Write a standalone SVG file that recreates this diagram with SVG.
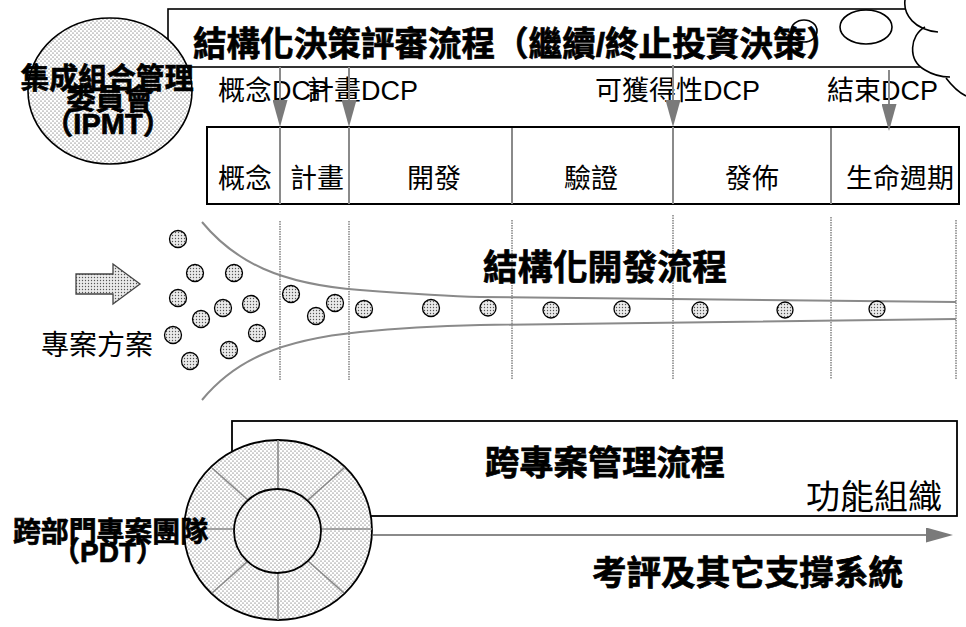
<svg xmlns="http://www.w3.org/2000/svg" width="966" height="627" viewBox="0 0 966 627">
<style>
.t{font-family:"Liberation Sans","Noto Sans CJK TC",sans-serif;fill:#000}
.b{font-weight:bold;stroke:#000;stroke-width:0.7}
.g{stroke:#8a8a8a;stroke-width:2;fill:none}
.dl{stroke:#8a8a8a;stroke-width:1.6;stroke-dasharray:1.5 1;fill:none}
.box{fill:#fff;stroke:#000;stroke-width:2}
.ball{fill:url(#bp);stroke:#000;stroke-width:1.3}
</style>
<defs>
<pattern id="dp" patternUnits="userSpaceOnUse" width="4" height="4">
<rect width="4" height="4" fill="#fff"/>
<circle cx="1" cy="1" r="0.55" fill="#333"/>
<circle cx="3" cy="3" r="0.55" fill="#333"/>
</pattern>
<pattern id="bp" patternUnits="userSpaceOnUse" width="3" height="3">
<rect width="3" height="3" fill="#eaeaea"/>
<circle cx="1.5" cy="1.5" r="0.7" fill="#555"/>
</pattern>
<marker id="ah" viewBox="0 0 27 15" refX="17" refY="7.5" markerWidth="27" markerHeight="15" markerUnits="userSpaceOnUse" orient="auto">
<path d="M0,0 L27,7.5 L0,15 Z" fill="#7a7a7a"/>
</marker>
</defs>

<g id="top-box">
<rect x="168" y="9" width="820" height="58" fill="#fff" stroke="#000" stroke-width="1.6"/>
<text class="t b" x="193" y="56" font-size="34" textLength="647" lengthAdjust="spacingAndGlyphs">結構化決策評審流程（繼續/終止投資決策）</text>
</g>

<g id="cloud">
<path d="M905,0 C903,15 915,30 932,32 C912,38 906,62 925,70 C933,75 942,77 948,78 C953,86 958,92 966,96 L966,0 Z" fill="#fff"/>
<path d="M905,0 C903,15 915,30 938,32" fill="none" stroke="#000" stroke-width="1.6"/>
<path d="M925,27 C910,35 907,60 925,70 C933,75 942,77 950,77" fill="none" stroke="#000" stroke-width="1.6"/>
<path d="M946,78 C952,86 958,92 966,96" fill="none" stroke="#000" stroke-width="1.6"/>
<ellipse cx="866" cy="27" rx="26" ry="17" fill="#fff" stroke="#000" stroke-width="1.6"/>
<ellipse cx="804" cy="31" rx="13" ry="11" fill="none" stroke="#000" stroke-width="1.6"/>
</g>

<g id="ipmt">
<ellipse cx="110" cy="91" rx="82" ry="73" fill="url(#dp)" stroke="#000" stroke-width="1.6"/>
<text class="t b" x="107" y="89" font-size="29" text-anchor="middle" textLength="173" lengthAdjust="spacingAndGlyphs">集成組合管理</text>
<text class="t b" x="110" y="110" font-size="29" text-anchor="middle">委員會</text>
<text class="t b" x="108" y="134" font-size="29" text-anchor="middle">（IPMT）</text>
</g>

<g id="dcp-labels">
<text class="t" x="218" y="100" font-size="27">概念DCP</text>
<text class="t" x="307" y="100" font-size="27">計畫DCP</text>
<text class="t" x="595" y="100" font-size="27">可獲得性DCP</text>
<text class="t" x="827" y="100" font-size="27">結束DCP</text>
</g>

<g id="phase-box">
<rect class="box" x="207" y="127" width="752" height="77"/>
<text class="t" x="245" y="188" font-size="27" text-anchor="middle">概念</text>
<text class="t" x="317" y="188" font-size="27" text-anchor="middle">計畫</text>
<text class="t" x="434" y="188" font-size="27" text-anchor="middle">開發</text>
<text class="t" x="591" y="188" font-size="27" text-anchor="middle">驗證</text>
<text class="t" x="752" y="188" font-size="27" text-anchor="middle">發佈</text>
<text class="t" x="900" y="188" font-size="27" text-anchor="middle">生命週期</text>
</g>

<g id="funnel">
<line class="dl" x1="280" y1="221" x2="280" y2="380"/>
<line class="dl" x1="349" y1="221" x2="349" y2="380"/>
<line class="dl" x1="512" y1="220" x2="512" y2="379"/>
<line class="dl" x1="673" y1="215" x2="673" y2="379"/>
<line class="dl" x1="831" y1="217" x2="831" y2="379"/>
<line class="dl" x1="956" y1="220" x2="956" y2="379"/>
<path class="g" d="M202,222 C235,262 280,284 360,290 C400,293 440,296 480,297 L956,302"/>
<path class="g" d="M202,400 C235,360 280,340 360,332 C400,328 440,326 480,325 L956,319"/>
<text class="t b" x="483" y="280" font-size="35" textLength="244" lengthAdjust="spacingAndGlyphs">結構化開發流程</text>
</g>

<g id="projects">
<path d="M76,274 H113 V264 L140,284 L113,304 V294 H76 Z" fill="url(#bp)" stroke="#444" stroke-width="1.3"/>
<text class="t" x="41" y="355" font-size="28">專案方案</text>
<circle class="ball" cx="178" cy="239" r="8.5"/>
<circle class="ball" cx="195" cy="273" r="8.5"/>
<circle class="ball" cx="234" cy="273" r="8.5"/>
<circle class="ball" cx="178" cy="298" r="8.5"/>
<circle class="ball" cx="223" cy="308" r="8.5"/>
<circle class="ball" cx="251" cy="304" r="8.5"/>
<circle class="ball" cx="201" cy="319" r="8.5"/>
<circle class="ball" cx="173" cy="335" r="8.5"/>
<circle class="ball" cx="257" cy="333" r="8.5"/>
<circle class="ball" cx="229" cy="350" r="8.5"/>
<circle class="ball" cx="190" cy="361" r="8.5"/>
<circle class="ball" cx="291" cy="294" r="8.5"/>
<circle class="ball" cx="316" cy="316" r="8.5"/>
<circle class="ball" cx="335" cy="303" r="8.5"/>
<circle class="ball" cx="364" cy="309" r="8.5"/>
<circle class="ball" cx="431" cy="308" r="8.5"/>
<circle class="ball" cx="488" cy="308" r="8"/>
<circle class="ball" cx="551" cy="310" r="8"/>
<circle class="ball" cx="622" cy="309" r="8"/>
<circle class="ball" cx="700" cy="310" r="8"/>
<circle class="ball" cx="785" cy="310" r="8"/>
<circle class="ball" cx="877" cy="309" r="8"/>
</g>

<g id="cross-project-box">
<rect x="232" y="421" width="725" height="95" fill="#fff" stroke="#000" stroke-width="1.8"/>
<text class="t b" x="485" y="475" font-size="34" textLength="240" lengthAdjust="spacingAndGlyphs">跨專案管理流程</text>
<text class="t" x="806" y="509" font-size="34">功能組織</text>
</g>

<g id="connectors">
<line class="g" x1="280" y1="67" x2="280" y2="117" marker-end="url(#ah)"/>
<line class="g" x1="349" y1="67" x2="349" y2="117" marker-end="url(#ah)"/>
<line class="g" x1="673" y1="65" x2="673" y2="117" marker-end="url(#ah)"/>
<line class="g" x1="889" y1="70" x2="889" y2="121" marker-end="url(#ah)"/>
<line class="g" x1="280" y1="127" x2="280" y2="204"/>
<line class="g" x1="349" y1="127" x2="349" y2="204"/>
<line class="g" x1="512" y1="128" x2="512" y2="204"/>
<line class="g" x1="673" y1="127" x2="673" y2="204"/>
<line class="g" x1="831" y1="128" x2="831" y2="204"/>
<line class="g" x1="373" y1="535" x2="943" y2="535" marker-end="url(#ah)"/>
</g>

<g id="pdt">
<ellipse cx="278" cy="530" rx="94" ry="90" fill="url(#dp)" stroke="#000" stroke-width="1.8"/>
<g stroke="#8a8a8a" stroke-width="1.6">
<line x1="278" y1="440" x2="278" y2="489"/>
<line x1="278" y1="573" x2="278" y2="620"/>
<line x1="184" y1="529" x2="234" y2="529"/>
<line x1="321" y1="529" x2="372" y2="529"/>
<line x1="212" y1="468" x2="248" y2="500"/>
<line x1="344" y1="468" x2="308" y2="500"/>
<line x1="212" y1="593" x2="248" y2="561"/>
<line x1="344" y1="593" x2="308" y2="561"/>
</g>
<ellipse cx="277.5" cy="531" rx="43.5" ry="42" fill="url(#dp)" stroke="#000" stroke-width="1.8"/>
<text class="t b" x="13" y="542" font-size="28" textLength="195" lengthAdjust="spacingAndGlyphs">跨部門專案團隊</text>
<text class="t b" x="108" y="562" font-size="28" text-anchor="middle">（PDT）</text>
</g>

<g id="support">
<text class="t b" x="592" y="585" font-size="34.5" textLength="311" lengthAdjust="spacingAndGlyphs">考評及其它支撐系統</text>
</g>
</svg>
